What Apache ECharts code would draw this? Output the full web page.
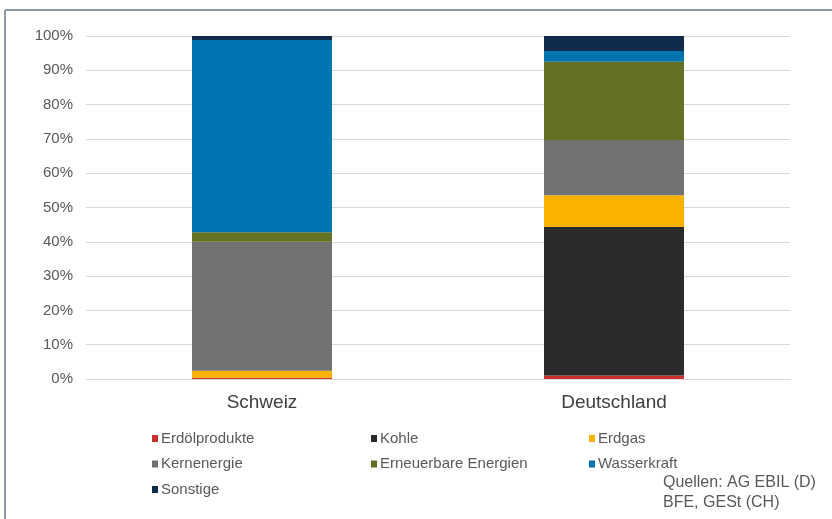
<!DOCTYPE html>
<html>
<head>
<meta charset="utf-8">
<script src="https://cdn.jsdelivr.net/npm/echarts@6/dist/echarts.min.js"></script>
<style>
  html, body { margin: 0; padding: 0; background: #fff; }
  #chart { width: 832px; height: 519px; }
</style>
</head>
<body>
<div id="chart"></div>
<script>
  // Kategorien und Anteile in Prozent
  var categories = ['Schweiz', 'Deutschland']
  var erdoel = [0.4, 1.0]
  var kohle = [0.0, 43.3]
  var erdgas = [2.0, 9.3]
  var kern = [37.6, 16.1]
  var erneuerbar = [2.8, 22.8]
  var wasser = [56.0, 3.1]
  var sonstige = [1.2, 4.4]
  var yTicks = [0, 10, 20, 30, 40, 50, 60, 70, 80, 90, 100]

  var colors = {
    'Erdölprodukte': '#c9302c',
    'Kohle': '#2b2b2b',
    'Erdgas': '#f9b200',
    'Kernenergie': '#727272',
    'Erneuerbare Energien': '#637222',
    'Wasserkraft': '#0074b0',
    'Sonstige': '#0f2b4b'
  }

  function series(name, data) {
    return {
      name: name,
      type: 'bar',
      stack: 'total',
      barWidth: 140,
      data: data,
      itemStyle: { color: colors[name] }
    }
  }

  function legend(left, names) {
    return {
      orient: 'vertical',
      left: left,
      top: 431,
      padding: 0,
      icon: 'rect',
      itemWidth: 6,
      itemHeight: 7,
      itemGap: 10.5,
      selectedMode: false,
      textStyle: { fontFamily: 'Liberation Sans', fontSize: 15, color: '#595959', padding: [0, 0, 0, -2] },
      data: names
    }
  }

  var mychart = echarts.init(document.getElementById('chart'))
  mychart.setOption({
    animation: false,
    grid: { left: 86, right: 42, top: 36, bottom: 140 },
    xAxis: {
      type: 'category',
      data: categories,
      axisTick: { show: false },
      axisLine: { lineStyle: { color: '#d9d9d9' } },
      axisLabel: { fontFamily: 'Liberation Sans', fontSize: 19, color: '#404040', margin: 14 }
    },
    yAxis: {
      type: 'value',
      min: yTicks[0],
      max: yTicks[yTicks.length - 1],
      interval: 10,
      axisLabel: {
        formatter: '{value}%',
        fontFamily: 'Liberation Sans',
        fontSize: 15,
        color: '#595959',
        margin: 13
      },
      splitLine: { lineStyle: { color: '#d9d9d9' } }
    },
    legend: [
      legend(152, ['Erdölprodukte', 'Kernenergie', 'Sonstige']),
      legend(371, ['Kohle', 'Erneuerbare Energien']),
      legend(589, ['Erdgas', 'Wasserkraft'])
    ],
    graphic: [
      { type: 'line', shape: { x1: 5, y1: 10, x2: 832, y2: 10 }, style: { stroke: '#8c9aa8', lineWidth: 2 } },
      { type: 'line', shape: { x1: 5, y1: 10, x2: 5, y2: 519 }, style: { stroke: '#8c9aa8', lineWidth: 2 } },
      {
        type: 'text', left: 663, top: 473,
        style: { text: 'Quellen: AG EBIL (D)\nBFE, GESt (CH)', font: '16px "Liberation Sans"', fill: '#595959', lineHeight: 20 }
      }
    ],
    series: [
      series('Erdölprodukte', erdoel),
      series('Kohle', kohle),
      series('Erdgas', erdgas),
      series('Kernenergie', kern),
      series('Erneuerbare Energien', erneuerbar),
      series('Wasserkraft', wasser),
      series('Sonstige', sonstige)
    ]
  })
</script>
</body>
</html>
